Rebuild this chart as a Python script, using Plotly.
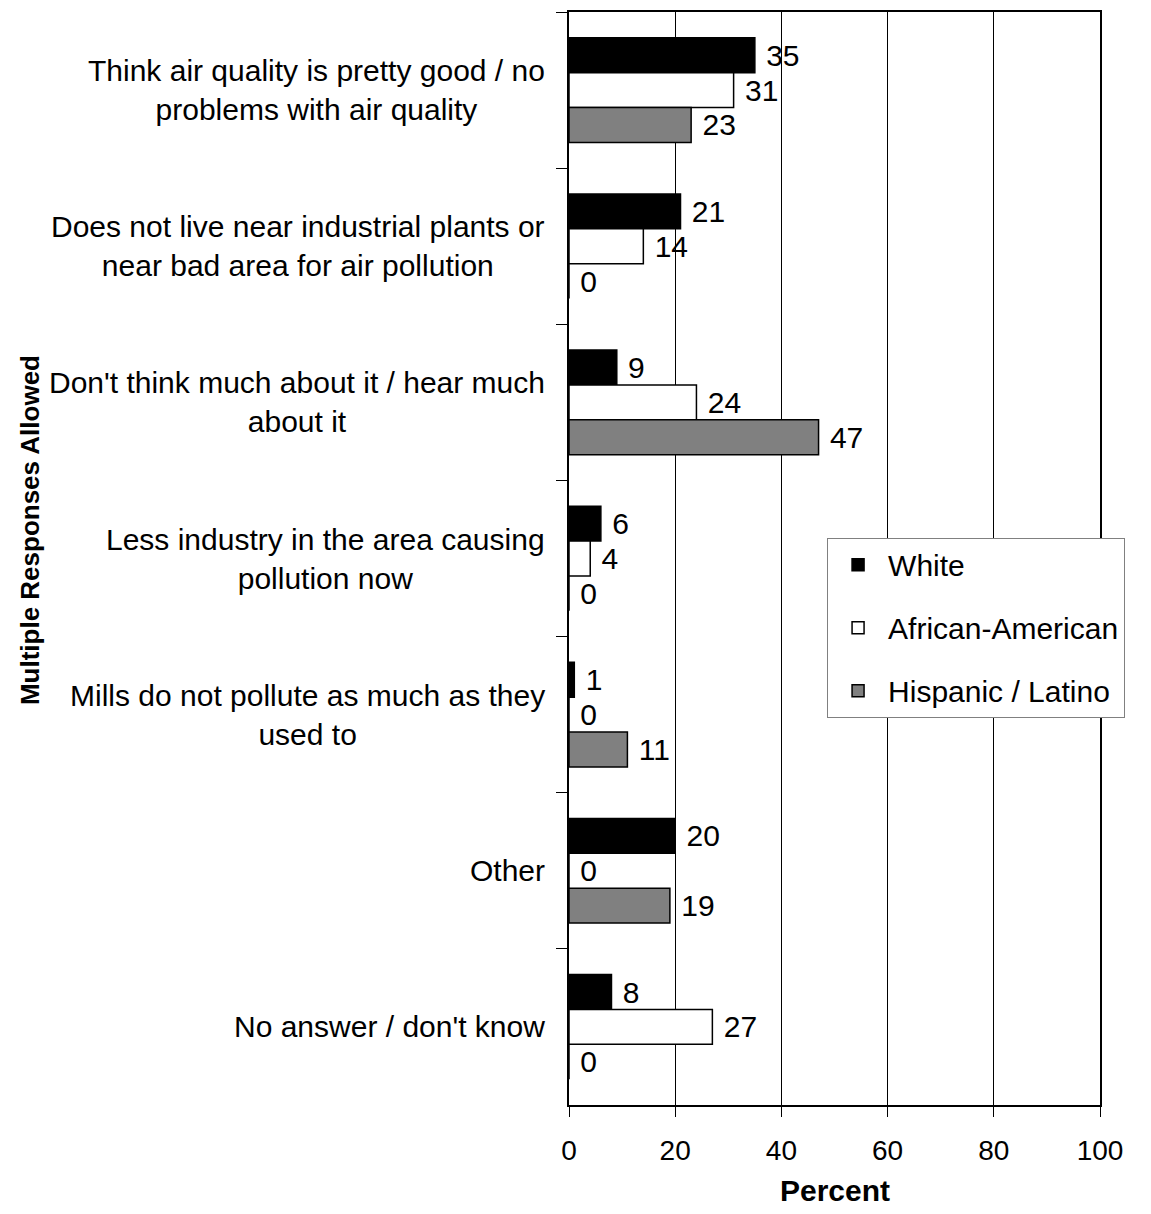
import plotly.graph_objects as go

categories = [
    "Think air quality is pretty good / no<br>problems with air quality",
    "Does not live near industrial plants or<br>near bad area for air pollution",
    "Don't think much about it / hear much<br>about it",
    "Less industry in the area causing<br>pollution now",
    "Mills do not pollute as much as they<br>used to",
    "Other",
    "No answer / don't know",
]
white = [35, 21, 9, 6, 1, 20, 8]
african_american = [31, 14, 24, 4, 0, 0, 27]
hispanic = [23, 0, 47, 0, 11, 19, 0]
x_ticks = [0, 20, 40, 60, 80, 100]

series = [
    ("White", white, "#000000"),
    ("African-American", african_american, "#ffffff"),
    ("Hispanic / Latino", hispanic, "#808080"),
]

FONT = "Liberation Sans, Arial, sans-serif"

fig = go.Figure()
for i, (name, vals, color) in enumerate(series):
    fig.add_trace(go.Bar(
        y=categories, x=vals, name=name, orientation="h",
        marker=dict(color=color, line=dict(color="#000000", width=1.5)),
        texttemplate="\u00a0%{x}", textposition="outside",
        textfont=dict(family=FONT, size=30, color="#000000"),
        cliponaxis=False, legendgroup=name,
    ))

annotations = []
for c in categories:
    annotations.append(dict(
        x=-0.0414, xref="paper", y=c, yref="y", text=c, showarrow=False,
        xanchor="right", yanchor="middle", align="center",
        font=dict(family=FONT, size=30, color="#000000"),
    ))
annotations.append(dict(
    x=-1.015, xref="paper", y=0.526, yref="paper",
    text="<b>Multiple Responses Allowed</b>", showarrow=False, textangle=-90,
    xanchor="center", yanchor="middle",
    font=dict(family=FONT, size=26, color="#000000"),
))
annotations.append(dict(
    x=0.5, xref="paper", y=-0.0785, yref="paper",
    text="<b>Percent</b>", showarrow=False,
    xanchor="center", yanchor="middle",
    font=dict(family=FONT, size=30, color="#000000"),
))

fig.update_layout(
    width=1143, height=1206,
    margin=dict(l=561, r=51, t=2, b=109),
    paper_bgcolor="white", plot_bgcolor="white",
    barmode="group", bargap=0.33, bargroupgap=0,
    font=dict(family=FONT, size=30, color="#000000"),
    annotations=annotations,
    showlegend=True,
    legend=dict(
        x=0.486, y=0.519, xanchor="left", yanchor="top",
        bgcolor="white", bordercolor="#808080", borderwidth=1,
        font=dict(family=FONT, size=30, color="#000000"),
        tracegroupgap=21, traceorder="grouped", itemwidth=50,
    ),
    xaxis=dict(
        range=[0, 100], tickvals=x_ticks,
        showgrid=True, gridcolor="#000000", gridwidth=1,
        showline=True, linecolor="#000000", linewidth=2, mirror=True,
        ticks="outside", ticklen=10, tickcolor="#000000",
        tickfont=dict(family=FONT, size=28, color="#000000"),
        ticklabelstandoff=9,
        zeroline=False,
    ),
    yaxis=dict(
        autorange="reversed", showticklabels=False,
        showline=True, linecolor="#000000", linewidth=2, mirror=True,
        ticks="outside", ticklen=11, tickcolor="#000000", tickson="boundaries",
        showgrid=False,
    ),
)

fig.write_html("out.html")
